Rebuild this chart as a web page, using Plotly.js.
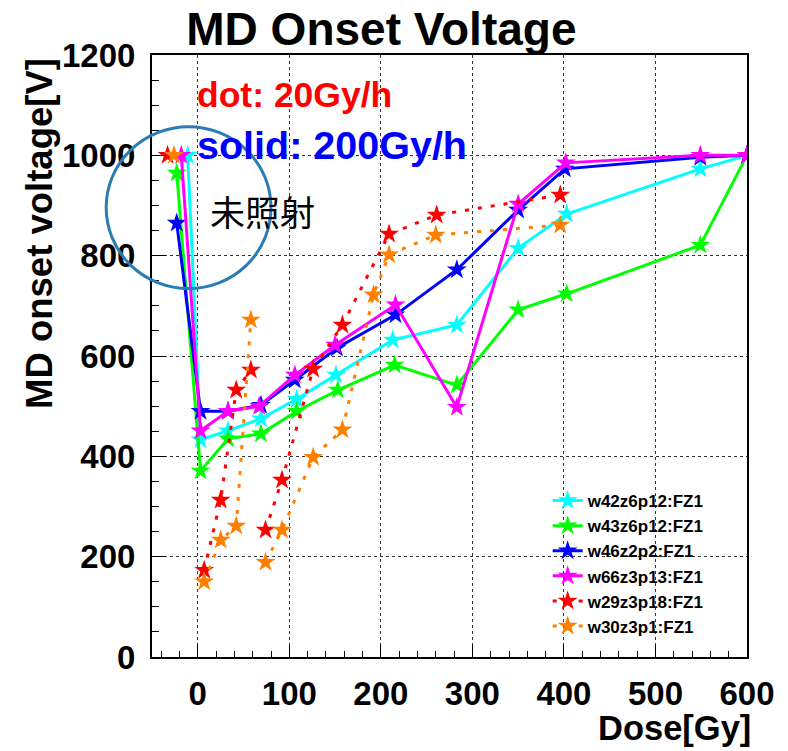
<!DOCTYPE html>
<html>
<head>
<meta charset="utf-8">
<script src="https://cdn.plot.ly/plotly-3.0.1.min.js"></script>
<style>html,body{margin:0;padding:0;background:#fff;}#chart{width:788px;height:751px;}</style>
</head>
<body>
<div id="chart"></div>
<script>
// ---- data ----
const seriesNames = ["w42z6p12:FZ1","w43z6p12:FZ1","w46z2p2:FZ1","w66z3p13:FZ1","w29z3p18:FZ1","w30z3p1:FZ1"];

const w42_dose = [-11, 3, 33, 69, 108, 151, 213, 283, 350, 403, 549, 600];
const w42_volt = [1000, 433, 451, 475, 514, 562, 632, 662, 815, 883, 973, 1000];

const w43_dose = [-23, 3, 33, 69, 108, 153, 215, 283, 350, 403, 549, 600];
const w43_volt = [965, 371, 435, 445, 490, 532, 582, 542, 692, 724, 821, 1000];

const w46_dose = [-23, 3, 33, 69, 106, 152, 216, 283, 350, 401, 549, 600];
const w46_volt = [865, 490, 490, 502, 552, 616, 682, 772, 891, 973, 996, 1000];

const w66_dose = [-18, 3, 33, 67, 106, 150, 216, 283, 350, 402, 549, 600];
const w66_volt = [1000, 451, 490, 500, 562, 622, 702, 498, 903, 985, 1000, 1000];

// dotted series: separate measurement runs, separated by null gaps
const w29_dose = [-33, null, 7, 25, 42, 58, null, 74, 92, 126, 158, 209, 261, 396];
const w29_volt = [1000, null, 173, 313, 532, 572, null, 253, 353, 574, 662, 843, 881, 921];

const w30_dose = [-26, null, 7, 25, 42, 58, null, 74, 92, 126, 158, 192, 209, 260, 396];
const w30_volt = [1000, null, 150, 233, 261, 672, null, 189, 253, 398, 453, 722, 802, 841, 861];

const colors = ["#00FFFF","#00FF00","#0000FF","#FF00FF","#FF0000","#FF8000"];

const xs = [w42_dose, w43_dose, w46_dose, w66_dose, w29_dose, w30_dose];
const ys = [w42_volt, w43_volt, w46_volt, w66_volt, w29_volt, w30_volt];

const traces = xs.map((x, i) => ({
  type: "scatter",
  mode: "lines+markers",
  name: seriesNames[i],
  x: x,
  y: ys[i],
  connectgaps: false,
  line: {color: colors[i], width: 3, dash: i >= 4 ? "4px,9px" : "solid"},
  marker: {symbol: "star", size: 15, color: colors[i], line: {width: 0}}
}));

const tickFont = {family: "Liberation Sans, Arial, sans-serif", size: 33, color: "#000", weight: "bold"};

const layout = {
  width: 788, height: 751,
  margin: {l: 152, r: 41, t: 55, b: 94},
  paper_bgcolor: "#fff", plot_bgcolor: "#fff",
  showlegend: true,
  title: {
    text: "<b>MD Onset Voltage</b>",
    font: {family: "Liberation Sans, Arial, sans-serif", size: 46, color: "#000"},
    x: 0.484, xanchor: "center", xref: "container",
    y: 0.962, yanchor: "middle", yref: "container"
  },
  xaxis: {
    range: [-50, 600], dtick: 100, tick0: 0,
    ticks: "inside", ticklen: 12, tickwidth: 1, tickcolor: "#000",
    minor: {dtick: 20, ticks: "inside", ticklen: 6, tickcolor: "#000", showgrid: false},
    showgrid: true, gridcolor: "#333", griddash: "dot", gridwidth: 1,
    zeroline: false, showline: true, mirror: true, linecolor: "#000", linewidth: 2,
    tickfont: tickFont, ticklabelstandoff: 6
  },
  yaxis: {
    range: [0, 1200], dtick: 200, tick0: 0,
    ticks: "inside", ticklen: 14, tickwidth: 1, tickcolor: "#000",
    minor: {dtick: 50, ticks: "inside", ticklen: 7, tickcolor: "#000", showgrid: false},
    showgrid: true, gridcolor: "#333", griddash: "dot", gridwidth: 1,
    zeroline: false, showline: true, mirror: true, linecolor: "#000", linewidth: 2,
    tickfont: tickFont, ticklabelstandoff: 8
  },
  legend: {
    x: 0.665, y: 0.289, xanchor: "left", yanchor: "top",
    bgcolor: "rgba(0,0,0,0)", borderwidth: 0,
    font: {family: "Liberation Sans, Arial, sans-serif", size: 17, color: "#000", weight: "bold"},
    tracegroupgap: 0
  },
  annotations: [
    {text: "<b>dot: 20Gy/h</b>", xref: "paper", yref: "paper", x: 0.072, y: 0.934,
     xanchor: "left", yanchor: "middle", showarrow: false,
     font: {family: "Liberation Sans, Arial, sans-serif", size: 35.5, color: "#FF0000"}},
    {text: "<b>solid: 200Gy/h</b>", xref: "paper", yref: "paper", x: 0.072, y: 0.85,
     xanchor: "left", yanchor: "middle", showarrow: false,
     font: {family: "Liberation Sans, Arial, sans-serif", size: 39.5, color: "#0000FF"}},
    {text: "未照射", xref: "paper", yref: "paper", x: 0.094, y: 0.742,
     xanchor: "left", yanchor: "middle", showarrow: false,
     font: {family: "Noto Sans CJK JP, sans-serif", size: 35, color: "#000"}},
    {text: "<b>MD onset voltage[V]</b>", xref: "paper", yref: "paper", x: -0.188, y: 0.703,
     xanchor: "center", yanchor: "middle", textangle: -90, showarrow: false,
     font: {family: "Liberation Sans, Arial, sans-serif", size: 36.5, color: "#000"}},
    {text: "<b>Dose[Gy]</b>", xref: "paper", yref: "paper", x: 1.01, y: -0.118,
     xanchor: "right", yanchor: "middle", showarrow: false,
     font: {family: "Liberation Sans, Arial, sans-serif", size: 34.5, color: "#000"}}
  ],
  shapes: [
    {type: "circle", xref: "paper", yref: "paper", x0: -0.077, x1: 0.2, y0: 0.612, y1: 0.881,
     line: {color: "#2A7DB4", width: 3}, fillcolor: "rgba(0,0,0,0)", layer: "above"}
  ]
};

Plotly.newPlot("chart", traces, layout, {displayModeBar: false, staticPlot: true});
</script>
</body>
</html>
